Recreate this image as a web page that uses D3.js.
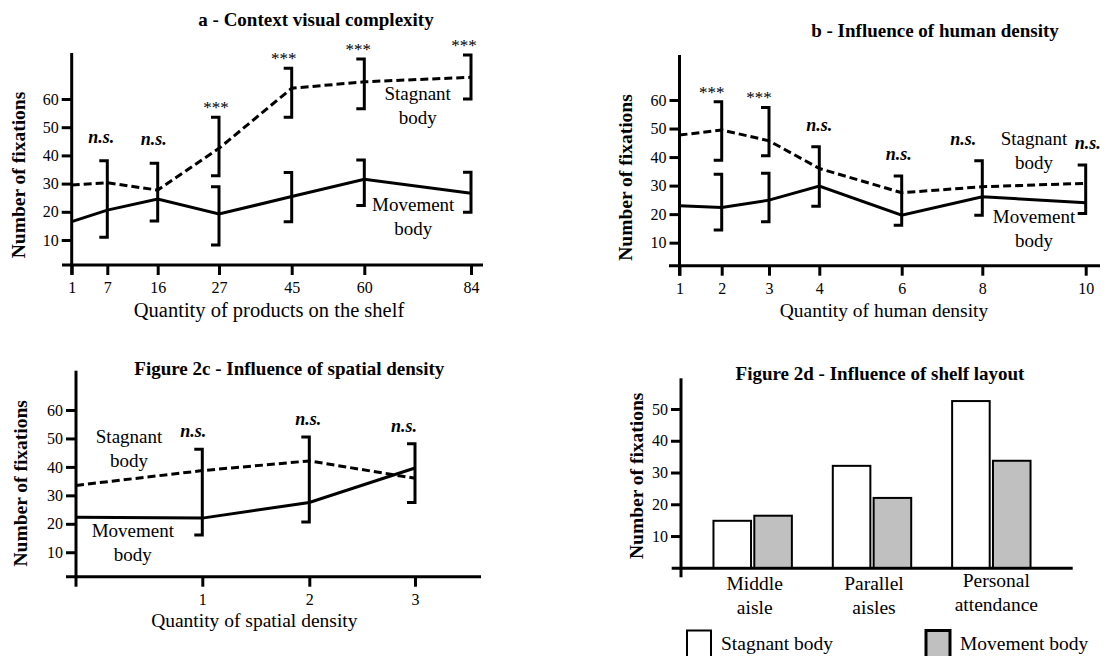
<!DOCTYPE html>
<meta charset="utf-8">
<style>

body {
  margin: 0;
  background: #fff;
}

svg text {
  font-family: "Liberation Serif", Tinos, "Times New Roman", Times, "DejaVu Serif", serif;
  fill: #000;
}

.title { font-size: 19px; font-weight: bold; }
.ylab { font-size: 19.5px; font-weight: bold; }
.xlab { font-size: 19.5px; }
.tick text { font-size: 16px; }
.tick line { stroke: #000; stroke-width: 3; }
.axisline { stroke: #000; stroke-width: 3; }
.series { fill: none; stroke: #000; stroke-width: 3; }
.bracket { fill: none; stroke: #000; stroke-width: 3; }
.ns { font-size: 18px; font-weight: bold; font-style: italic; }
.stars { font-size: 17px; }
.note { font-size: 19px; }
.bar { stroke: #000; stroke-width: 2; }

</style>
<svg width="1111" height="656"></svg>
<script src="https://cdn.jsdelivr.net/npm/d3@7/dist/d3.min.js"></script>
<script>

// a - products on the shelf
var products = [1, 7, 16, 27, 45, 60, 84];
var productsStagnant = [29.5, 30.3, 27.7, 42.5, 63.8, 66.1, 67.7];
var productsMovement = [16.5, 20.6, 24.5, 19.2, 25.4, 31.5, 26.6];
// [x, low, high]
var productsBrackets = [[7, 11.0, 38.1], [16, 16.7, 37.2], [27, 32.8, 53.5], [27, 8.2, 28.9],
  [45, 53.5, 70.9], [45, 16.5, 33.9], [60, 56.5, 74.2], [60, 22.2, 38.4], [84, 60.0, 75.6], [84, 19.8, 34.0]];
var productsSig = ["", "n.s.", "n.s.", "***", "***", "***", "***"];

// b - human density
var humans = [1, 2, 3, 4, 6, 8, 10];
var humansStagnant = [47.7, 49.5, 45.7, 36.0, 27.5, 29.6, 30.8];
var humansMovement = [22.9, 22.3, 24.9, 29.8, 19.6, 26.1, 24.0];
var humansBrackets = [[2, 38.9, 59.4], [2, 14.4, 34.0], [3, 40.5, 57.4], [3, 17.3, 34.3],
  [4, 22.8, 43.6], [6, 16.1, 33.4], [8, 19.6, 38.7], [10, 20.2, 37.2]];
var humansSig = ["", "***", "***", "n.s.", "n.s.", "n.s.", "n.s."];

// c - spatial density
var spatial = [0, 1, 2, 3];
var spatialStagnant = [33.5, 38.7, 42.1, 36.0];
var spatialMovement = [22.3, 22.0, 27.5, 39.6];
var spatialBrackets = [[1, 16.1, 46.2], [2, 20.6, 50.5], [3, 27.5, 48.1]];
var spatialSig = ["", "n.s.", "n.s.", "n.s."];

// d - shelf layout
var layouts = [["Middle", "aisle"], ["Parallel", "aisles"], ["Personal", "attendance"]];
var layoutStagnant = [14.8, 32.1, 52.5];
var layoutMovement = [16.4, 22.0, 33.7];

var seriesNames = [["Stagnant", "body"], ["Movement", "body"]];
var legendNames = ["Stagnant body", "Movement body"];
var yTicks = [10, 20, 30, 40, 50, 60];

var svg = d3.select("svg");

function linePanel(p) {
  var g = svg.append("g");

  var x = d3.scaleLinear().domain(p.xs).range(p.xRange);
  var y = d3.scaleLinear().domain([0, 60]).range(p.yRange);

  // axes lines
  g.append("line").attr("class", "axisline")
      .attr("x1", x(p.xs[0])).attr("x2", x(p.xs[0]))
      .attr("y1", p.top).attr("y2", p.axisY + 10);
  g.append("line").attr("class", "axisline")
      .attr("x1", p.axisX[0]).attr("x2", p.axisX[1])
      .attr("y1", p.axisY).attr("y2", p.axisY);

  g.append("g")
      .attr("transform", "translate(0," + p.axisY + ")")
      .call(d3.axisBottom(x).tickValues(p.ticks).tickSize(10).tickPadding(7).tickFormat(d3.format("d")))
      .call(function(a) { a.select(".domain").remove(); });

  g.append("g")
      .attr("transform", "translate(" + x(p.xs[0]) + ",0)")
      .call(d3.axisLeft(y).tickValues(yTicks).tickSize(10).tickPadding(3))
      .call(function(a) { a.select(".domain").remove(); });

  var line = d3.line()
      .x(function(d, i) { return x(p.xs[i]); })
      .y(function(d) { return y(d); });

  g.append("path").attr("class", "series")
      .attr("stroke-dasharray", "8,4")
      .attr("d", line(p.stagnant));
  g.append("path").attr("class", "series")
      .attr("d", line(p.movement));

  g.selectAll(".bracket")
    .data(p.brackets)
    .join("path")
      .attr("class", "bracket")
      .attr("d", function(d) {
        var bx = x(d[0]);
        return "M" + (bx - 8) + "," + y(d[2]) + "H" + bx + "V" + y(d[1]) + "H" + (bx - 8);
      });

  p.xs.forEach(function(v, i) {
    var s = p.sig[i];
    if (!s) return;
    var top = d3.max(p.brackets.filter(function(b) { return b[0] === v; }), function(b) { return b[2]; });
    var stars = s === "***";
    var dx = p.sigDx ? p.sigDx[i] : -5;
    g.append("text")
        .attr("class", stars ? "stars" : "ns")
        .attr("text-anchor", "middle")
        .attr("x", x(v) + dx)
        .attr("y", y(top) - (stars ? 4 : p.nsGap))
        .text(s);
  });

  p.notes.forEach(function(n, k) {
    var t = g.append("text").attr("class", "note")
        .attr("text-anchor", "middle")
        .attr("transform", "translate(" + x(n[0]) + "," + y(n[1]) + ")");
    seriesNames[k].forEach(function(s, j) {
      t.append("tspan").attr("x", 0).attr("y", j * 24).text(s);
    });
  });

  g.append("text").attr("class", "title")
      .attr("text-anchor", "middle")
      .attr("x", p.titlePos[0]).attr("y", p.titlePos[1])
      .text(p.title);

  g.append("text").attr("class", "xlab")
      .attr("text-anchor", "middle")
      .attr("x", p.xlabPos[0]).attr("y", p.xlabPos[1])
      .style("font-size", p.xlabSize)
      .text(p.xlab);

  g.append("text").attr("class", "ylab")
      .attr("text-anchor", "middle")
      .attr("transform", "translate(" + p.ylabPos[0] + "," + p.ylabPos[1] + ") rotate(-90)")
      .text("Number of fixations");
}

linePanel({
  xs: products, ticks: products,
  xRange: [71.7, 107.3, 157.7, 219, 291.7, 364.3, 471],
  yRange: [268.2, 99],
  top: 53, axisY: 265, axisX: [62, 483],
  stagnant: productsStagnant, movement: productsMovement,
  brackets: productsBrackets, sig: productsSig, nsGap: 18,
  sigDx: [0, -6, -4, -3, -8, -6, -7],
  notes: [[72, 59.6], [71, 20.3]],
  title: "a - Context visual complexity", titlePos: [316, 26],
  xlab: "Quantity of products on the shelf", xlabPos: [269, 316.5], xlabSize: "20.5px",
  ylabPos: [25, 175]
});

linePanel({
  xs: humans, ticks: humans,
  xRange: [679.5, 721.7, 769, 819.3, 901.7, 982.3, 1085.7],
  yRange: [271.2, 100],
  top: 55, axisY: 265.7, axisX: [669, 1100],
  stagnant: humansStagnant, movement: humansMovement,
  brackets: humansBrackets, sig: humansSig, nsGap: 16,
  sigDx: [0, -10, -10, 0, -3, -19, 2],
  notes: [[9, 44.3], [9, 17.0]],
  title: "b - Influence of human density", titlePos: [935, 36.5],
  xlab: "Quantity of human density", xlabPos: [884, 317], xlabSize: "19.5px",
  ylabPos: [631.5, 177.5]
});

linePanel({
  xs: spatial, ticks: [1, 2, 3],
  xRange: [76, 202.3, 309.3, 415],
  yRange: [580.7, 410],
  top: 370.7, axisY: 576.7, axisX: [66, 481],
  stagnant: spatialStagnant, movement: spatialMovement,
  brackets: spatialBrackets, sig: spatialSig, nsGap: 12,
  sigDx: [0, -9, -1, -11],
  notes: [[0.42, 48.5], [0.45, 15.3]],
  title: "Figure 2c - Influence of spatial density", titlePos: [289.3, 375],
  xlab: "Quantity of spatial density", xlabPos: [254.3, 626.7], xlabSize: "19.5px",
  ylabPos: [26.5, 483.3]
});

// d - bars
var gd = svg.append("g");

var xd = d3.scalePoint().domain(d3.range(layouts.length)).range([693, 1051]).padding(0.5);
var xsub = d3.scaleBand().domain([0, 1]).range([-39.2, 39.2]).paddingInner(0.08);
var yd = d3.scaleLinear().domain([0, 50]).range([567.8, 409]);
var fills = ["#fff", "#c0c0c0"];

gd.append("line").attr("class", "axisline")
    .attr("x1", 681).attr("x2", 681).attr("y1", 378.3).attr("y2", 577.3);
gd.append("line").attr("class", "axisline")
    .attr("x1", 671.7).attr("x2", 1072.7).attr("y1", 568.3).attr("y2", 568.3);

gd.append("g")
    .attr("transform", "translate(681,0)")
    .call(d3.axisLeft(yd).tickValues([10, 20, 30, 40, 50]).tickSize(10).tickPadding(3))
    .call(function(a) { a.select(".domain").remove(); });

[layoutStagnant, layoutMovement].forEach(function(vals, k) {
  gd.selectAll(".bar-" + k)
    .data(vals)
    .join("rect")
      .attr("class", "bar bar-" + k)
      .attr("fill", fills[k])
      .attr("x", function(d, i) { return xd(i) + xsub(k); })
      .attr("width", xsub.bandwidth())
      .attr("y", function(d) { return yd(d); })
      .attr("height", function(d) { return yd(0) - yd(d); });
});

var catY = [589.5, 589.5, 586.5];
layouts.forEach(function(l, i) {
  var t = gd.append("text").attr("class", "xlab")
      .attr("text-anchor", "middle")
      .attr("transform", "translate(" + (xd(i) + 2 + (i === 2 ? 3 : 0)) + "," + catY[i] + ")");
  l.forEach(function(s, j) {
    t.append("tspan").attr("x", 0).attr("y", j * 24).text(s);
  });
});

gd.append("text").attr("class", "title")
    .attr("text-anchor", "middle")
    .attr("x", 880).attr("y", 380)
    .text("Figure 2d - Influence of shelf layout");

gd.append("text").attr("class", "ylab")
    .attr("text-anchor", "middle")
    .attr("transform", "translate(642.5,475.8) rotate(-90)")
    .text("Number of fixations");

var legendX = [687, 926];
legendNames.forEach(function(s, k) {
  gd.append("rect")
      .attr("x", legendX[k]).attr("y", 630.5)
      .attr("width", 24).attr("height", 32)
      .attr("fill", fills[k]).attr("stroke", "#000")
      .attr("stroke-width", k ? 3 : 2);
  gd.append("text").attr("class", "xlab")
      .attr("x", legendX[k] + 34).attr("y", 650)
      .text(s);
});

</script>
